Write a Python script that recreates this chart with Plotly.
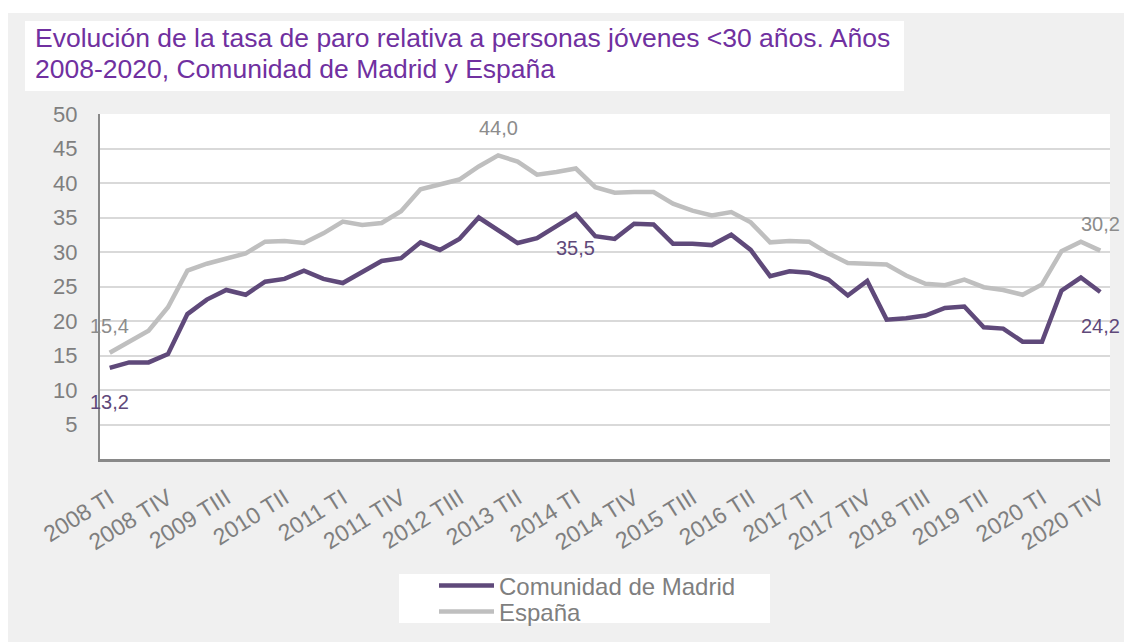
import plotly.graph_objects as go

# quarters 2008 TI .. 2020 TIV
QUARTERS = [f"{y} T{q}" for y in range(2008, 2021) for q in ("I", "II", "III", "IV")]
TICK_LABELS = QUARTERS[::3]

MADRID = [
    13.2, 14.0, 14.0, 15.2, 21.0, 23.1, 24.5, 23.8, 25.7, 26.1, 27.3, 26.1, 25.5,
    27.1, 28.7, 29.1, 31.4, 30.3, 31.9, 35.0, 33.2, 31.3, 32.0, 33.8, 35.5, 32.3,
    31.9, 34.1, 34.0, 31.2, 31.2, 31.0, 32.5, 30.3, 26.5, 27.2, 27.0, 26.0, 23.7,
    25.8, 20.2, 20.4, 20.8, 21.9, 22.1, 19.1, 18.9, 17.0, 17.0, 24.4, 26.3, 24.2,
]
ESPANA = [
    15.4, 17.0, 18.6, 22.0, 27.3, 28.3, 29.1, 29.8, 31.5, 31.6, 31.3, 32.7, 34.4,
    33.9, 34.2, 35.9, 39.1, 39.8, 40.5, 42.4, 44.0, 43.1, 41.2, 41.6, 42.1, 39.4,
    38.6, 38.7, 38.7, 37.0, 36.0, 35.3, 35.8, 34.3, 31.4, 31.6, 31.5, 29.8, 28.4,
    28.3, 28.2, 26.6, 25.4, 25.2, 26.0, 24.9, 24.5, 23.8, 25.3, 30.1, 31.5, 30.2,
]
MADRID_LABELED = [0, 24, 51]
ESPANA_LABELED = [0, 20, 51]

TITLE_LINES = ["Evolución de la tasa de paro relativa a personas jóvenes <30 años. Años",
               "2008-2020, Comunidad de Madrid y España"]

PURPLE = "#5F497A"
GREY_LINE = "#BFBFBF"
TEXT_GREY = "#7F7F7F"
FONT = "Liberation Sans, Arial, sans-serif"

# figure sits inside the page body margin (8 px)
W, H = 1124, 634
L, R, T, B = 92, 22, 106, 183


def px_x(px):
    return (px - L) / (W - L - R)


def px_y(py):
    return (H - B - py) / (H - T - B)


def fmt(v):
    return f"{v:.1f}".replace(".", ",")


fig = go.Figure()
fig.add_trace(go.Scatter(x=QUARTERS, y=MADRID, mode="lines", name="Comunidad de Madrid",
                         line=dict(color=PURPLE, width=4.5), legend="legend"))
fig.add_trace(go.Scatter(x=QUARTERS, y=ESPANA, mode="lines", name="España",
                         line=dict(color=GREY_LINE, width=4.5), legend="legend2"))

annotations = []
for i in ESPANA_LABELED:
    annotations.append(dict(x=QUARTERS[i], y=ESPANA[i], text=fmt(ESPANA[i]), showarrow=False,
                            yshift=27, font=dict(size=20, color="#8C8C8C")))
for i in MADRID_LABELED:
    annotations.append(dict(x=QUARTERS[i], y=MADRID[i], text=fmt(MADRID[i]), showarrow=False,
                            yshift=-34, font=dict(size=20, color=PURPLE)))
for line, cy in zip(TITLE_LINES, (30, 61)):
    annotations.append(dict(xref="paper", yref="paper", x=px_x(25), y=px_y(cy),
                            xanchor="left", yanchor="middle", showarrow=False,
                            text=line, font=dict(size=26.5, color="#7030A0")))

shapes = [
    dict(type="rect", xref="paper", yref="paper", x0=px_x(0), x1=px_x(W), y0=px_y(5), y1=px_y(0),
         fillcolor="white", line_width=0),
    # title box
    dict(type="rect", xref="paper", yref="paper", x0=px_x(17), x1=px_x(896), y0=px_y(83), y1=px_y(13),
         fillcolor="white", line_width=0),
    # legend box
    dict(type="rect", xref="paper", yref="paper", x0=px_x(391), x1=px_x(762), y0=px_y(615), y1=px_y(566),
         fillcolor="white", line_width=0),
]

legend_style = dict(xanchor="left", yanchor="middle", bgcolor="rgba(0,0,0,0)",
                    font=dict(size=24, color=TEXT_GREY), itemwidth=55)

fig.update_layout(
    width=W, height=H,
    margin=dict(l=L, r=R, t=T, b=B, autoexpand=False),
    paper_bgcolor="#F0F0F0", plot_bgcolor="white",
    font=dict(family=FONT, size=21, color=TEXT_GREY),
    showlegend=True,
    legend=dict(x=px_x(426), y=px_y(578), **legend_style),
    legend2=dict(x=px_x(426), y=px_y(604), **legend_style),
    annotations=annotations,
    shapes=shapes,
)
fig.update_xaxes(
    type="category", range=[-0.5, len(QUARTERS) - 0.5],
    tickmode="array", tickvals=TICK_LABELS, ticktext=TICK_LABELS,
    tickangle=-32, tickfont=dict(size=23, color=TEXT_GREY),
    showgrid=False, showline=True, linecolor="#898989", linewidth=2.5,
    ticks="outside", ticklen=14, tickcolor="rgba(0,0,0,0)",
)
fig.update_yaxes(
    range=[0, 50], tickvals=list(range(5, 55, 5)),
    tickfont=dict(size=22, color=TEXT_GREY),
    showgrid=True, gridcolor="#D9D9D9", gridwidth=1.5,
    showline=True, linecolor="#898989", linewidth=2,
    zeroline=False, ticks="outside", ticklen=16, tickcolor="rgba(0,0,0,0)",
)

fig.write_html("out.html")
